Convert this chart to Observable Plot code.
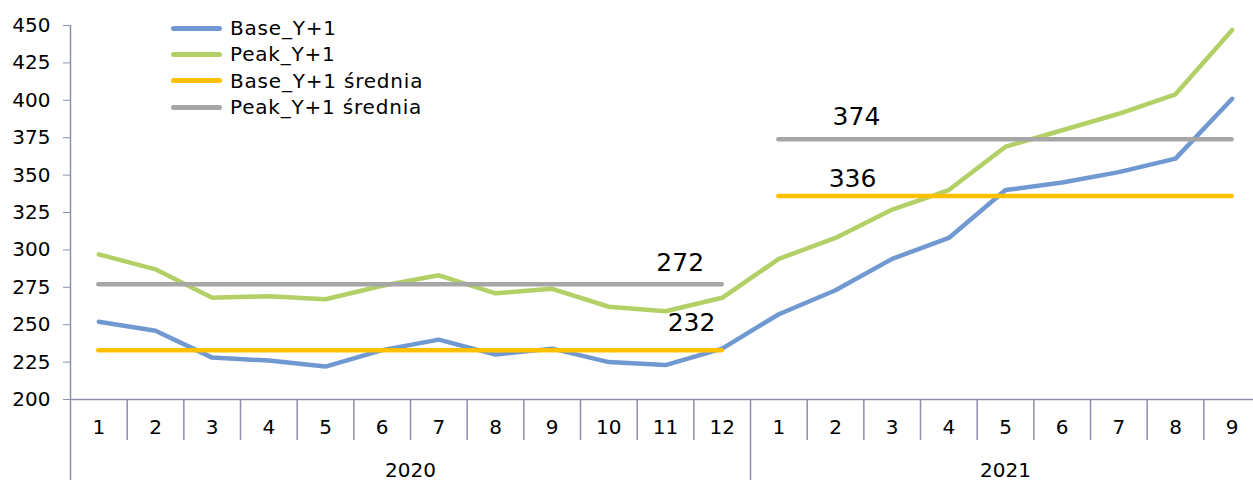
<!DOCTYPE html>
<html><head><meta charset="utf-8">
<script src="https://cdn.jsdelivr.net/npm/d3@7"></script>
<script src="https://cdn.jsdelivr.net/npm/@observablehq/plot@0.6"></script>
<style>
body{margin:0;background:#fff;}
#wrap{position:relative;width:1253px;height:480px;overflow:hidden;font-family:"DejaVu Sans",Verdana,sans-serif;}
#legend{position:absolute;left:171px;top:15px;font-size:20px;color:#000;letter-spacing:0.8px;}
#legend .row{display:flex;align-items:center;height:26.3px;white-space:nowrap;}
#legend .sw{width:51px;height:5px;border-radius:3px;margin-right:8px;}
</style></head><body><div id="wrap"><div id="legend"></div></div>
<script>
const months = ["1","2","3","4","5","6","7","8","9","10","11","12","1","2","3","4","5","6","7","8","9"];
const years  = ["2020","2020","2020","2020","2020","2020","2020","2020","2020","2020","2020","2020",
                "2021","2021","2021","2021","2021","2021","2021","2021","2021"];
const base = [252,246,228,226,222,233,240,230,234,225,223,234, 257,273,294,308,340,345,352,361,401];
const peak = [297,287,268,269,267,276,283,271,274,262,259,268, 294,308,327,340,369,380,391,404,447];
const yearNames = ["2020","2021"];
const baseAvg = [233,336];
const peakAvg = [277,374];
const baseAvgLabels = ["232","336"];
const peakAvgLabels = ["272","374"];
const yTicks = [200,225,250,275,300,325,350,375,400,425,450];
const seriesNames = ["Base_Y+1","Peak_Y+1","Base_Y+1 średnia","Peak_Y+1 średnia"];

const colors = ["#7099D1","#B2D066","#FFC000","#A6A6A6"];
const axisColor = "#8C8FAE";

const rows = months.map((m,i)=>({i, base:base[i], peak:peak[i]}));
const segs = yearNames.map((y,k)=>{
  const first = years.indexOf(y), last = years.lastIndexOf(y);
  return {year:y, first, last, x1:first+0.5, x2:last+0.5, center:(first+last+1)/2,
          baseAvg:baseAvg[k], peakAvg:peakAvg[k], baseLab:baseAvgLabels[k], peakLab:peakAvgLabels[k]};
});
const lineOpts = {strokeWidth:4.5, strokeLinejoin:"round", strokeLinecap:"round"};
const noText = () => "";

const chart = Plot.plot({
  width:1253, height:480,
  marginLeft:70, marginRight:0, marginTop:25, marginBottom:81,
  style:{fontFamily:"'DejaVu Sans',Verdana,sans-serif", fontSize:"20px", color:"#000", background:"#fff"},
  x:{type:"linear", domain:[0,months.length], range:[70,1260], axis:null},
  y:{domain:[200,450], axis:null},
  marks:[
    Plot.axisY(yTicks, {tickSize:7, tickPadding:13, stroke:axisColor, fill:"#000", fontSize:20, label:null}),
    Plot.ruleX([0], {stroke:axisColor, strokeWidth:1.5}),
    Plot.ruleY([200], {stroke:axisColor, strokeWidth:1.5}),
    Plot.axisX(d3.range(1, months.length).filter(i => !segs.some(s => s.first === i)),
      {tickSize:41, stroke:axisColor, strokeWidth:1.5, tickFormat:noText, label:null}),
    Plot.axisX([0, ...segs.slice(1).map(s=>s.first)],
      {tickSize:81, stroke:axisColor, strokeWidth:1.5, tickFormat:noText, label:null}),
    Plot.axisX(months.map((m,i)=>i+0.5),
      {tickSize:0, tickPadding:20, tickFormat:d=>months[Math.floor(d)], fill:"#000", fontSize:20, label:null}),
    Plot.axisX(segs.map(s=>s.center),
      {tickSize:0, tickPadding:63, tickFormat:d=>segs.find(s=>s.center===d).year, fill:"#000", fontSize:20, label:null}),
    Plot.line(rows, {x:d=>d.i+0.5, y:"base", stroke:colors[0], ...lineOpts}),
    Plot.line(rows, {x:d=>d.i+0.5, y:"peak", stroke:colors[1], ...lineOpts}),
    Plot.ruleY(segs, {y:"baseAvg", x1:"x1", x2:"x2", stroke:colors[2], ...lineOpts}),
    Plot.ruleY(segs, {y:"peakAvg", x1:"x1", x2:"x2", stroke:colors[3], ...lineOpts}),
    Plot.text(segs.slice(0,1), {x:d=>d.x2-0.74, y:"peakAvg", text:"peakLab", dy:-21, fontSize:25, fill:"#000"}),
    Plot.text(segs.slice(0,1), {x:d=>d.x2-0.54, y:"baseAvg", text:"baseLab", dy:-27, fontSize:25, fill:"#000"}),
    Plot.text(segs.slice(1), {x:d=>d.x1+1.37, y:"peakAvg", text:"peakLab", dy:-22, fontSize:25, fill:"#000"}),
    Plot.text(segs.slice(1), {x:d=>d.x1+1.3, y:"baseAvg", text:"baseLab", dy:-17, fontSize:25, fill:"#000"})
  ]
});
const wrap = document.getElementById("wrap");
wrap.insertBefore(chart, wrap.firstChild);
chart.style.position = "absolute"; chart.style.left = "0"; chart.style.top = "0";
const legend = document.getElementById("legend");
seriesNames.forEach((n,k)=>{
  const r = document.createElement("div"); r.className="row";
  const sw = document.createElement("div"); sw.className="sw"; sw.style.background=colors[k];
  const t = document.createElement("span"); t.textContent=n;
  r.appendChild(sw); r.appendChild(t); legend.appendChild(r);
});
</script></body></html>
